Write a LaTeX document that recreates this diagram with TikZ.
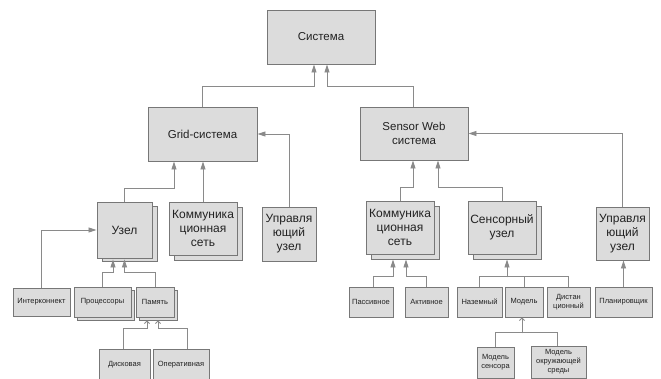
\documentclass[tikz,border=0pt]{standalone}
\usepackage{fontspec}
\setmainfont{Liberation Sans}
\usetikzlibrary{arrows.meta,calc}
\definecolor{boxfill}{HTML}{DCDCDC}
\definecolor{boxline}{HTML}{777777}
\definecolor{lncol}{HTML}{8A8A8A}
\definecolor{txt}{HTML}{222222}
\newcommand\mybox[7][]{\node[box,#1,minimum width={#5-#3},minimum height={#6-#4}] (#2) at ({(#3+#5)/2},{(#4+#6)/2}) {#7};}
\begin{document}
\begin{tikzpicture}[x=1pt,y=-1pt,
 box/.style={draw=boxline,fill=boxfill,line width=0.9pt,inner sep=1pt,align=center,text=txt},
 big/.style={font=\fontsize{12}{14}\selectfont},
 mid/.style={font=\fontsize{11.5}{14}\selectfont},
 small/.style={font=\fontsize{7.5}{9}\selectfont},
 ln/.style={draw=lncol,line width=0.8pt},
 arr/.style={ln,-{Triangle[length=8pt,width=5pt]}},
 oarr/.style={ln,-{Straight Barb[length=2.5pt,width=5pt]}}]
\useasboundingbox[fill=white] (0,0) rectangle (661,379);

% top levels
\mybox[mid]{sys}{267}{10}{375}{64}{Система}
\mybox[mid]{grid}{148}{107}{257}{161}{Grid-система}
\mybox[mid]{sw}{360}{107}{468}{160}{Sensor Web\\система}

% grid children
\mybox{uzelS}{102}{206}{157}{261}{}
\mybox[big]{uzel}{97}{202}{152}{258}{Узел}
\mybox{comm1S}{174}{207}{242}{260}{}
\mybox[big]{comm1}{169}{202}{237}{255}{Коммуника\\ционная\\сеть}
\mybox[big]{upr1}{262}{207}{316}{261}{Управля\\ющий\\узел}

\mybox[small]{inter}{13}{288}{70}{316}{Интерконнект}
\mybox{procS}{77}{290}{134}{320}{}
\mybox[small]{proc}{74}{287}{131}{317}{Процессоры}
\mybox{pamS}{139}{290}{177}{320}{}
\mybox[small]{pam}{136}{287}{174}{317}{Память}
\mybox[small]{disk}{99}{349}{150}{381}{Дисковая}
\mybox[small]{oper}{153}{349}{209}{381}{Оперативная}

% sensor web children
\mybox{comm2S}{371}{206}{439}{259}{}
\mybox[big]{comm2}{366}{201}{434}{254}{Коммуника\\ционная\\сеть}
\mybox{sensS}{473}{206}{541}{259}{}
\mybox[big]{sens}{468}{201}{536}{254}{Сенсорный\\узел}
\mybox[big]{upr2}{596}{207}{649}{260}{Управля\\ющий\\узел}

\mybox[small]{pass}{349}{287}{393}{317}{Пассивное}
\mybox[small]{akt}{405}{287}{448}{317}{Активное}
\mybox[small]{naz}{457}{287}{502}{317}{Наземный}
\mybox[small]{mod}{505}{287}{543}{317}{Модель}
\mybox[small]{dist}{547}{287}{590}{317}{Дистан\\ционный}
\mybox[small]{plan}{595}{287}{652}{317}{Планировщик}
\mybox[small]{msens}{477}{347}{514}{378}{Модель\\сенсора}
\mybox[small]{mokr}{531}{346}{586}{378}{Модель\\окружающей\\среды}

% connectors
\draw[arr] (grid.north) -- ++(0,-20) -| ($(sys.south)+(-7,0)$);
\draw[arr] ($(sw.north)+(-1,0)$) -- ++(0,-20) -| ($(sys.south)+(6,0)$);

\draw[arr] (uzel.north) -- ++(0,-13) -| ($(grid.south)+(-28.5,0)$);
\draw[arr] (comm1.north) -- (comm1.north |- grid.south);
\draw[arr] (upr1.north) |- (grid.east);

\draw[arr] (comm2.north) -- ++(0,-13) -| ($(sw.south)+(-1,0)$);
\draw[arr] (sens.north) -- ++(0,-13) -| ($(sw.south)+(24,0)$);
\draw[arr] (upr2.north) |- (sw.east);

\draw[arr] (inter.north) |- (uzel.west);
\draw[arr] (proc.north) -- ++(0,-14) -| ($(uzel.south)+(-11.5,1)$);
\draw[arr] (pam.north) -- ++(0,-14) -| ($(uzel.south)+(0,1)$);
\draw[oarr] ($(disk.north)+(-1,0)$) -- ++(0,-20) -| ($(pamS.south)+(-11,0)$);
\draw[oarr] ($(oper.north)+(6,0)$) -- ++(0,-20) -| (pamS.south);

\draw[arr] ($(pass.north)+(2,0)$) -- ++(0,-10) -| ($(comm2S.south)+(-12,0)$);
\draw[arr] (akt.north) -- ++(0,-10) -| ($(comm2S.south)+(1,0)$);

\draw[ln] (naz.north) -- ++(0,-10) -| (dist.north);
\draw[ln] (mod.north) -- ++(0,-10);
\coordinate (jS) at ($(sensS.south)+(0,18)$);
\draw[arr] (jS) -- (sensS.south);

\draw[ln] (msens.north) -- ++(0,-14) -| ($(mokr.north)+(-1,0)$);
\coordinate (jM) at ($(mod.south)+(-2,16)$);
\draw[oarr] (jM) -- ($(mod.south)+(-2,0)$);

\draw[arr] (plan.north) -- (plan.north |- upr2.south);
\end{tikzpicture}
\end{document}
